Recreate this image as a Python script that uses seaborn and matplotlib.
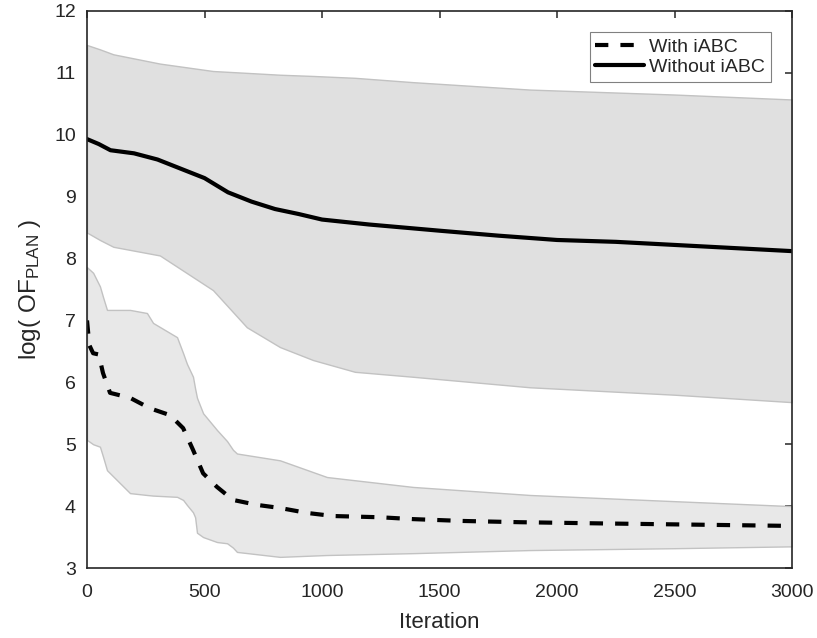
import numpy as np
import pandas as pd
import matplotlib
matplotlib.use("Agg")
import matplotlib.pyplot as plt
import seaborn as sns

# mean curves
iter_without = [0, 50, 100, 200, 300, 400, 500, 600, 700, 800, 900, 1000, 1200,
                1500, 1750, 2000, 2250, 2500, 2750, 3000]
mean_without = [9.93, 9.85, 9.75, 9.70, 9.60, 9.45, 9.30, 9.07, 8.92, 8.80, 8.72,
                8.63, 8.55, 8.45, 8.37, 8.30, 8.27, 8.22, 8.17, 8.12]

iter_with = [0, 10, 26, 50, 68, 98, 183, 268, 353, 409, 451, 494, 553, 621, 723,
             821, 936, 1047, 1247, 1387, 1600, 1843, 2200, 2600, 3000]
mean_with = [7.00, 6.60, 6.47, 6.45, 6.15, 5.83, 5.75, 5.58, 5.47, 5.26, 4.91, 4.53,
             4.31, 4.10, 4.02, 3.97, 3.89, 3.84, 3.82, 3.79, 3.76, 3.74, 3.72, 3.70, 3.68]

# spread bands
band_x_without = [0, 55, 112, 310, 536, 680, 821, 962, 1140, 1387, 1885, 2500, 3000]
upper_without = [11.45, 11.38, 11.30, 11.15, 11.03, 11.00, 10.97, 10.95, 10.92,
                 10.85, 10.73, 10.65, 10.57]
lower_without = [8.42, 8.30, 8.19, 8.05, 7.49, 6.89, 6.57, 6.36, 6.17, 6.09,
                 5.92, 5.80, 5.68]

band_x_with = [0, 26, 55, 68, 85, 183, 255, 281, 383, 409, 425, 451, 460, 468,
               494, 553, 596, 621, 638, 821, 1021, 1387, 1885, 2500, 3000]
upper_with = [7.86, 7.77, 7.55, 7.38, 7.17, 7.17, 7.12, 6.96, 6.73, 6.47, 6.30,
              6.09, 5.90, 5.75, 5.50, 5.23, 5.05, 4.91, 4.85, 4.74, 4.47, 4.31,
              4.18, 4.08, 4.00]
lower_with = [5.07, 5.00, 4.96, 4.80, 4.58, 4.21, 4.18, 4.17, 4.15, 4.10, 4.02,
              3.90, 3.82, 3.57, 3.50, 3.42, 3.40, 3.33, 3.26, 3.18, 3.21, 3.24,
              3.29, 3.32, 3.35]

df = pd.concat([
    pd.DataFrame({"Iteration": iter_with, "value": mean_with, "run": "With iABC"}),
    pd.DataFrame({"Iteration": iter_without, "value": mean_without, "run": "Without iABC"}),
])

sns.set_style("white")
plt.rcParams["font.family"] = ["Liberation Sans", "DejaVu Sans"]
plt.rcParams["mathtext.default"] = "regular"

fig = plt.figure(figsize=(8.17, 6.38), dpi=100)
ax = fig.add_axes([0.1065, 0.1097, 0.8629, 0.8731])

ax.fill_between(band_x_without, lower_without, upper_without,
                color="#e0e0e0", edgecolor="#c2c2c2", linewidth=1)
ax.fill_between(band_x_with, lower_with, upper_with,
                color="#e8e8e8", edgecolor="#c2c2c2", linewidth=1)

sns.lineplot(data=df, x="Iteration", y="value", style="run",
             dashes={"With iABC": (3.2, 2.9), "Without iABC": ""},
             color="black", linewidth=3, ax=ax)

ax.set_xlim(0, 3000)
ax.set_ylim(3, 12)
ax.set_xticks([0, 500, 1000, 1500, 2000, 2500, 3000])
ax.set_yticks(range(3, 13))
ax.tick_params(direction="in", top=True, right=True, length=5, width=1.1,
               labelsize=14, colors="#262626")
ax.tick_params(axis="x", pad=11.5)
ax.tick_params(axis="y", pad=8)
for s in ax.spines.values():
    s.set_color("#262626")
    s.set_linewidth(1.2)

ax.set_xlabel("Iteration", fontsize=16, color="#262626", labelpad=8)
ax.set_ylabel("log( OF$_{PLAN}$ )", fontsize=17.5, color="#262626", labelpad=8)

leg = ax.legend(loc="upper right", bbox_to_anchor=(0.970, 0.962), fontsize=14,
                frameon=True, fancybox=False, framealpha=1, edgecolor="#808080",
                handlelength=2.5, borderpad=0.3, labelspacing=0.15,
                handletextpad=0.26, borderaxespad=0)
leg.get_frame().set_linewidth(0.8)
for h in leg.get_lines():
    h.set_linewidth(3)

fig.savefig("out.png", dpi=100)
